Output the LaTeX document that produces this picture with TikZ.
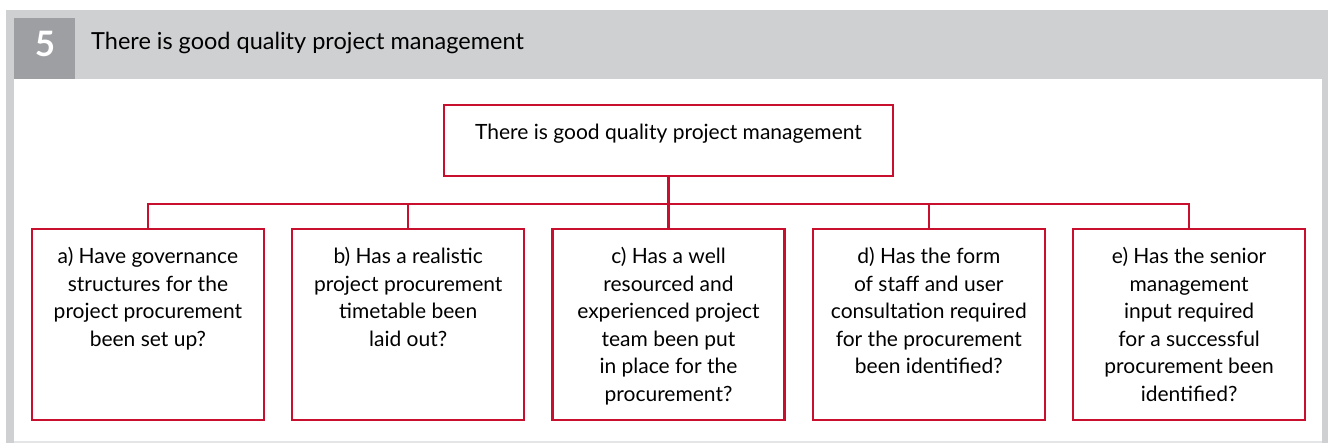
\documentclass[tikz,border=0pt]{standalone}
\usepackage{fontspec}
\setmainfont{Lato}
\usetikzlibrary{positioning}
\definecolor{nhsred}{RGB}{200, 16, 46}
\definecolor{headgray}{RGB}{207, 208, 210}
\definecolor{numgray}{RGB}{157, 159, 162}
\definecolor{rulegray}{RGB}{228, 229, 231}
\newcommand{\boxtext}[3]{\parbox[c][#1][t]{#2}{\centering\vspace*{12pt}\strut #3}}

\begin{document}
\begin{tikzpicture}[
    x=1pt, y=1pt,
    node distance=26pt,
    qbox/.style={rectangle, draw=nhsred, line width=2.3pt, fill=white,
                 inner sep=0pt, minimum width=232pt, minimum height=191pt,
                 font=\fontsize{21}{27.5}\selectfont},
    topbox/.style={rectangle, draw=nhsred, line width=2.3pt, fill=white,
                   inner sep=0pt, minimum width=449pt, minimum height=71pt,
                   font=\fontsize{21}{27.5}\selectfont},
    link/.style={draw=nhsred, line width=2.3pt},
    title/.style={anchor=base west, inner sep=0pt,
                  font=\fontsize{23.5}{28}\selectfont},
    numlbl/.style={inner sep=0pt, text=white,
                   font=\fontsize{35}{35}\selectfont\bfseries}
]
    % frame and header band
    \fill[white] (0,0) rectangle (1328,443);
    \useasboundingbox (0,0) rectangle (1328,443);
    \fill[headgray] (6,364) rectangle (1328,433);
    \fill[headgray] (6,0) rectangle (14,364);
    \fill[headgray] (1322,0) rectangle (1328,364);
    \fill[rulegray] (14,0) rectangle (1322,1.5);
    \fill[numgray] (14,364) rectangle (75,425);
    \node[numlbl] (num) at (45,399) {5};
    \node[title] (head) at (91,393) {There is good quality project management};

    % tree
    \node[topbox] (top) at (668.5,302.5) {\boxtext{65pt}{440pt}{There is good quality project management}};
    \node[qbox, below=51pt of top] (qc) {\boxtext{185pt}{224pt}{c) Has a well\\ resourced and\\ experienced project\\ team been put\\ in place for the\\ procurement?}};
    \node[qbox, left=of qc] (qb) {\boxtext{185pt}{224pt}{b) Has a realistic\\ project procurement\\ timetable been\\ laid out?}};
    \node[qbox, left=of qb] (qa) {\boxtext{185pt}{224pt}{a) Have governance\\ structures for the\\ project procurement\\ been set up?}};
    \node[qbox, right=of qc] (qd) {\boxtext{185pt}{224pt}{d) Has the form\\ of staff and user\\ consultation required\\ for the procurement\\ been identified?}};
    \node[qbox, right=of qd] (qe) {\boxtext{185pt}{224pt}{e) Has the senior\\ management\\ input required\\ for a successful\\ procurement been\\ identified?}};

    \draw[link] (qa.north) -- ++(0,24) coordinate (bus) -| (qe.north);
    \draw[link] (top.south) -- (qc.north);
    \draw[link] (qb.north) -- (qb.north |- bus);
    \draw[link] (qd.north) -- (qd.north |- bus);
\end{tikzpicture}
\end{document}
